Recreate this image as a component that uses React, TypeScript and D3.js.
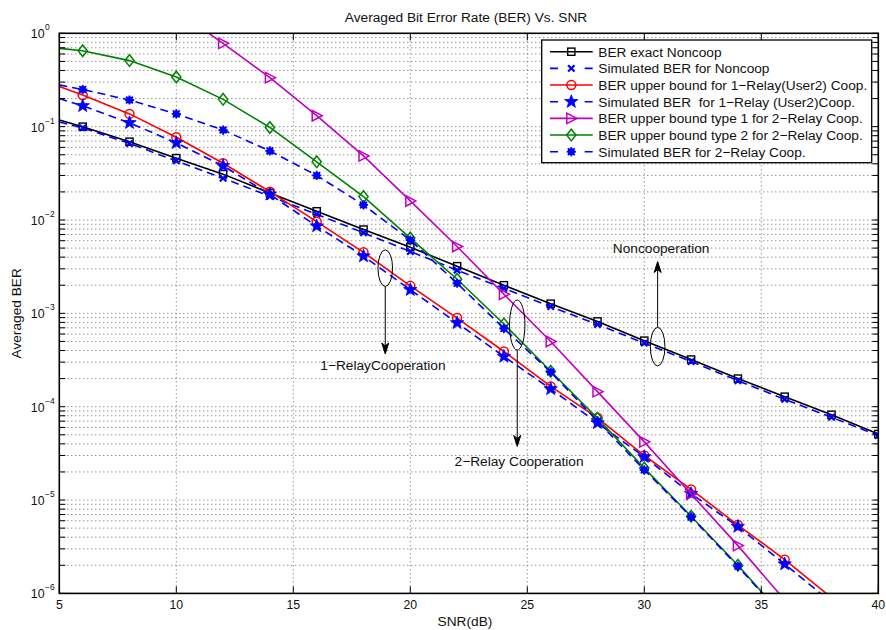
import React from "react";
import * as d3 from "d3";

// ---------- data ----------
const snr = [5, 6, 8, 10, 12, 14, 16, 18, 20, 22, 24, 26, 28, 30, 32, 34, 36, 38, 40];

const berNoncoop = [0.118, 0.1, 0.069, 0.046, 0.031, 0.0195, 0.0124, 0.0079, 0.0051, 0.0032, 0.002, 0.00127, 8.2e-4, 5.1e-4, 3.2e-4, 2.0e-4, 1.28e-4, 8.2e-5, 5.1e-5];
const simNoncoop = [0.112, 0.097, 0.066, 0.043, 0.028, 0.018, 0.0115, 0.0073, 0.0046, 0.0029, 0.00185, 0.00118, 7.6e-4, 4.8e-4, 3.05e-4, 1.9e-4, 1.2e-4, 7.7e-5, 4.9e-5];
const bound1Relay = [0.27, 0.218, 0.137, 0.077, 0.0406, 0.0201, 0.0096, 0.0045, 0.00197, 8.9e-4, 3.9e-4, 1.65e-4, 7.6e-5, 3.0e-5, 1.3e-5, 5.4e-6, 2.3e-6, 9e-7, 3.5e-7];
const sim1Relay = [0.2, 0.167, 0.11, 0.067, 0.038, 0.0188, 0.0086, 0.0041, 0.00179, 7.9e-4, 3.45e-4, 1.55e-4, 6.7e-5, 2.9e-5, 1.17e-5, 5.2e-6, 2.06e-6, 8e-7, 3e-7];
const bound2RelayT1 = [NaN, NaN, NaN, 1.75, 0.78, 0.335, 0.131, 0.0486, 0.016, 0.0052, 0.0016, 5.0e-4, 1.45e-4, 4.2e-5, 1.16e-5, 3.25e-6, 8.5e-7, 2e-7, 5e-8];
const bound2RelayT2 = [0.69, 0.65, 0.51, 0.34, 0.196, 0.098, 0.042, 0.0178, 0.0064, 0.00232, 7.7e-4, 2.4e-4, 7.5e-5, 2.2e-5, 6.7e-6, 2.0e-6, 5.5e-7, 1.5e-7, 4e-8];
const sim2Relay = [0.28, 0.25, 0.193, 0.137, 0.092, 0.055, 0.03, 0.0145, 0.0061, 0.0021, 6.9e-4, 2.35e-4, 7.0e-5, 2.1e-5, 6.6e-6, 1.95e-6, 5.4e-7, 1.5e-7, 4e-8];

const seriesNames = [
  "BER exact Noncoop",
  "Simulated BER for Noncoop",
  "BER upper bound for 1\u2212Relay(User2) Coop.",
  "Simulated BER  for 1\u2212Relay (User2)Coop.",
  "BER upper bound type 1 for 2\u2212Relay Coop.",
  "BER upper bound type 2 for 2\u2212Relay Coop.",
  "Simulated BER for 2\u2212Relay Coop.",
];

const xTicks = [5, 10, 15, 20, 25, 30, 35, 40];
const yExponents = [-6, -5, -4, -3, -2, -1, 0];

const titleText = "Averaged Bit Error Rate (BER) Vs. SNR";
const xLabel = "SNR(dB)";
const yLabel = "Averaged BER";

// annotations in data coordinates: ellipse centre, arrow tip, label position
const annotations = [
  { text: "1\u2212RelayCooperation", cx: 18.93, cy: 3.05e-3, tipY: 3.68e-4, labelX: 18.83, labelY: 2.48e-4, ry: 18.3, rx: 7.3, up: false },
  { text: "2\u2212Relay Cooperation", cx: 24.57, cy: 7.5e-4, tipY: 3.75e-5, labelX: 24.65, labelY: 2.29e-5, ry: 25, rx: 7.7, up: false },
  { text: "Noncooperation", cx: 30.57, cy: 4.4e-4, tipY: 3.59e-3, labelX: 30.72, labelY: 4.4e-3, ry: 19.3, rx: 7.3, up: true },
];

// ---------- layout ----------
const W = 886;
const H = 630;
const L = 59.3;
const R = 878.3;
const T = 33.3;
const B = 593.4;
const FONT = "'Liberation Sans', Arial, Helvetica, sans-serif";
const FS = 13.7; // label font size
const TFS = 12.3; // tick font size

const x = d3.scaleLinear().domain([5, 40]).range([L, R]);
const y = d3.scaleLog().domain([1e-6, 1]).range([B, T]);

const BLUE = "#0000ff";

type MarkerKind = "square" | "x" | "circle" | "pentagram" | "triangle" | "diamond" | "asterisk";

function starPoints(ro: number, ri: number) {
  const pts: string[] = [];
  for (let i = 0; i < 10; i++) {
    const r = i % 2 === 0 ? ro : ri;
    const a = -Math.PI / 2 + (i * Math.PI) / 5;
    pts.push(`${(r * Math.cos(a)).toFixed(2)},${(r * Math.sin(a)).toFixed(2)}`);
  }
  return pts.join(" ");
}

function Marker({ kind, cx, cy, color }: { kind: MarkerKind; cx: number; cy: number; color: string }) {
  const t = `translate(${cx},${cy})`;
  switch (kind) {
    case "square":
      return <rect transform={t} x={-3.6} y={-3.6} width={7.2} height={7.2} fill="none" stroke={color} strokeWidth={1.4} />;
    case "x":
      return (
        <g transform={t} stroke={color} strokeWidth={2.2}>
          <line x1={-3.2} y1={-3.2} x2={3.2} y2={3.2} />
          <line x1={-3.2} y1={3.2} x2={3.2} y2={-3.2} />
        </g>
      );
    case "circle":
      return <circle transform={t} r={4.5} fill="none" stroke={color} strokeWidth={1.5} />;
    case "pentagram":
      return <polygon transform={t} points={starPoints(7, 2.9)} fill={color} stroke={color} strokeWidth={0.8} />;
    case "triangle":
      return <polygon transform={t} points="-4.5,-5.2 5.5,0 -4.5,5.2" fill="none" stroke={color} strokeWidth={1.5} />;
    case "diamond":
      return <polygon transform={t} points="0,-5.8 4.6,0 0,5.8 -4.6,0" fill="none" stroke={color} strokeWidth={1.5} />;
    case "asterisk":
      return (
        <g transform={t} stroke={color} strokeWidth={1.8}>
          <circle r={3.5} fill={color} stroke="none" />
          <line x1={-4.6} y1={0} x2={4.6} y2={0} />
          <line x1={0} y1={-4.6} x2={0} y2={4.6} />
          <line x1={-3.4} y1={-3.4} x2={3.4} y2={3.4} />
          <line x1={-3.4} y1={3.4} x2={3.4} y2={-3.4} />
        </g>
      );
  }
  return null;
}

const series: { values: number[]; color: string; dash?: string; marker: MarkerKind; width: number }[] = [
  { values: berNoncoop, color: "#000000", marker: "square", width: 1.6 },
  { values: simNoncoop, color: BLUE, dash: "8,5", marker: "x", width: 1.6 },
  { values: bound1Relay, color: "#ff0000", marker: "circle", width: 1.6 },
  { values: sim1Relay, color: BLUE, dash: "8,5", marker: "pentagram", width: 1.6 },
  { values: bound2RelayT1, color: "#c000c0", marker: "triangle", width: 1.6 },
  { values: bound2RelayT2, color: "#008000", marker: "diamond", width: 1.6 },
  { values: sim2Relay, color: BLUE, dash: "8,5", marker: "asterisk", width: 1.6 },
];

export default function App() {
  const line = d3
    .line<number>()
    .defined((v) => Number.isFinite(v))
    .x((_, i) => x(snr[i]))
    .y((v) => y(v));

  const minorY: number[] = [];
  for (let e = -6; e < 0; e++) {
    for (let m = 2; m <= 9; m++) minorY.push(m * Math.pow(10, e));
  }
  const majorY = yExponents.map((e) => Math.pow(10, e));

  const legendX = 541.7;
  const legendY = 40;
  const legendW = 330;
  const legendH = 122.7;
  const rowH = 16.67;

  return (
    <svg
      width={W}
      height={H}
      viewBox={`0 0 ${W} ${H}`}
      style={{ position: "absolute", left: 0, top: 0, background: "#fff" }}
      fontFamily={FONT}
    >
      <defs>
        <clipPath id="plotClip">
          <rect x={L} y={T} width={R - L} height={B - T} />
        </clipPath>
      </defs>
      <rect x={0} y={0} width={W} height={H} fill="#fff" />

      {/* grid */}
      <g stroke="#555" strokeWidth={0.9} strokeDasharray="1,3">
        {xTicks.slice(1, -1).map((v) => (
          <line key={"gx" + v} x1={x(v)} x2={x(v)} y1={T} y2={B} />
        ))}
        {[...minorY, ...majorY.slice(1, -1)].map((v, i) => (
          <line key={"gy" + i} x1={L} x2={R} y1={y(v)} y2={y(v)} />
        ))}
      </g>

      {/* series */}
      <g clipPath="url(#plotClip)">
        {series.map((s, si) => (
          <g key={"s" + si}>
            <path d={line(s.values) || ""} fill="none" stroke={s.color} strokeWidth={s.width} strokeDasharray={s.dash} />
            {s.values.map((v, i) =>
              i > 0 && Number.isFinite(v) && v >= 1e-6 && v <= 1 ? (
                <Marker key={i} kind={s.marker} cx={x(snr[i])} cy={y(v)} color={s.color} />
              ) : null
            )}
          </g>
        ))}
      </g>

      {/* annotations */}
      <g stroke="#000" strokeWidth={1} fill="none">
        {annotations.map((a, i) => {
          const cx = x(a.cx);
          const cy = y(a.cy);
          const startY = a.up ? cy - a.ry : cy + a.ry;
          const tip = y(a.tipY);
          const dir = a.up ? 1 : -1;
          return (
            <g key={"an" + i}>
              <ellipse cx={cx} cy={cy} rx={a.rx} ry={a.ry} />
              <line x1={cx} x2={cx} y1={startY} y2={tip + dir * 8} />
              <polygon points={`${cx},${tip} ${cx - 3.5},${tip + dir * 11} ${cx},${tip + dir * 8} ${cx + 3.5},${tip + dir * 11}`} fill="#000" />
            </g>
          );
        })}
      </g>
      {annotations.map((a, i) => (
        <text key={"at" + i} x={x(a.labelX)} y={y(a.labelY)} textAnchor="middle" fontSize={FS} fill="#111">
          {a.text}
        </text>
      ))}

      {/* axes box and ticks */}
      <g stroke="#000" strokeWidth={1}>
        {xTicks.map((v) => (
          <g key={"xt" + v}>
            <line x1={x(v)} x2={x(v)} y1={B} y2={B - 7} />
            <line x1={x(v)} x2={x(v)} y1={T} y2={T + 7} />
          </g>
        ))}
        {[...minorY, ...majorY].map((v, i) => (
          <g key={"yt" + i}>
            <line x1={L} x2={L + 6} y1={y(v)} y2={y(v)} />
            <line x1={R} x2={R - 6} y1={y(v)} y2={y(v)} />
          </g>
        ))}
      </g>
      <rect x={L} y={T} width={R - L} height={B - T} fill="none" stroke="#000" strokeWidth={1.6} />

      {/* tick labels */}
      {xTicks.map((v) => (
        <text key={"xl" + v} x={x(v)} y={B + 16} textAnchor="middle" fontSize={TFS} fill="#111">
          {v}
        </text>
      ))}
      {yExponents.map((e) => (
        <g key={"yl" + e}>
          <text x={44.5} y={y(Math.pow(10, e)) + 5} textAnchor="end" fontSize={TFS} fill="#111">
            10
          </text>
          <text x={45} y={y(Math.pow(10, e)) - 3} textAnchor="start" fontSize={8.5} fill="#111">
            {e < 0 ? "\u2212" + Math.abs(e) : String(e)}
          </text>
        </g>
      ))}

      {/* labels */}
      <text x={466} y={22} textAnchor="middle" fontSize={FS} fill="#111">
        {titleText}
      </text>
      <text x={465} y={626} textAnchor="middle" fontSize={FS} fill="#111">
        {xLabel}
      </text>
      <text transform={`translate(21,${(T + B) / 2}) rotate(-90)`} textAnchor="middle" fontSize={FS} fill="#111">
        {yLabel}
      </text>

      {/* legend */}
      <g>
        <rect x={legendX} y={legendY} width={legendW} height={legendH} fill="#fff" stroke="#000" strokeWidth={1.3} />
        {series.map((s, i) => {
          const ry = legendY + 11.7 + i * rowH;
          return (
            <g key={"lg" + i}>
              <line x1={550} x2={592.7} y1={ry} y2={ry} stroke={s.color} strokeWidth={1.6} strokeDasharray={s.dash ? "8,26.7" : undefined} />
              <Marker kind={s.marker} cx={571.3} cy={ry} color={s.color} />
              <text x={598.3} y={ry + 4.8} fontSize={FS} fill="#111" style={{ whiteSpace: "pre" }}>
                {seriesNames[i]}
              </text>
            </g>
          );
        })}
      </g>
    </svg>
  );
}
